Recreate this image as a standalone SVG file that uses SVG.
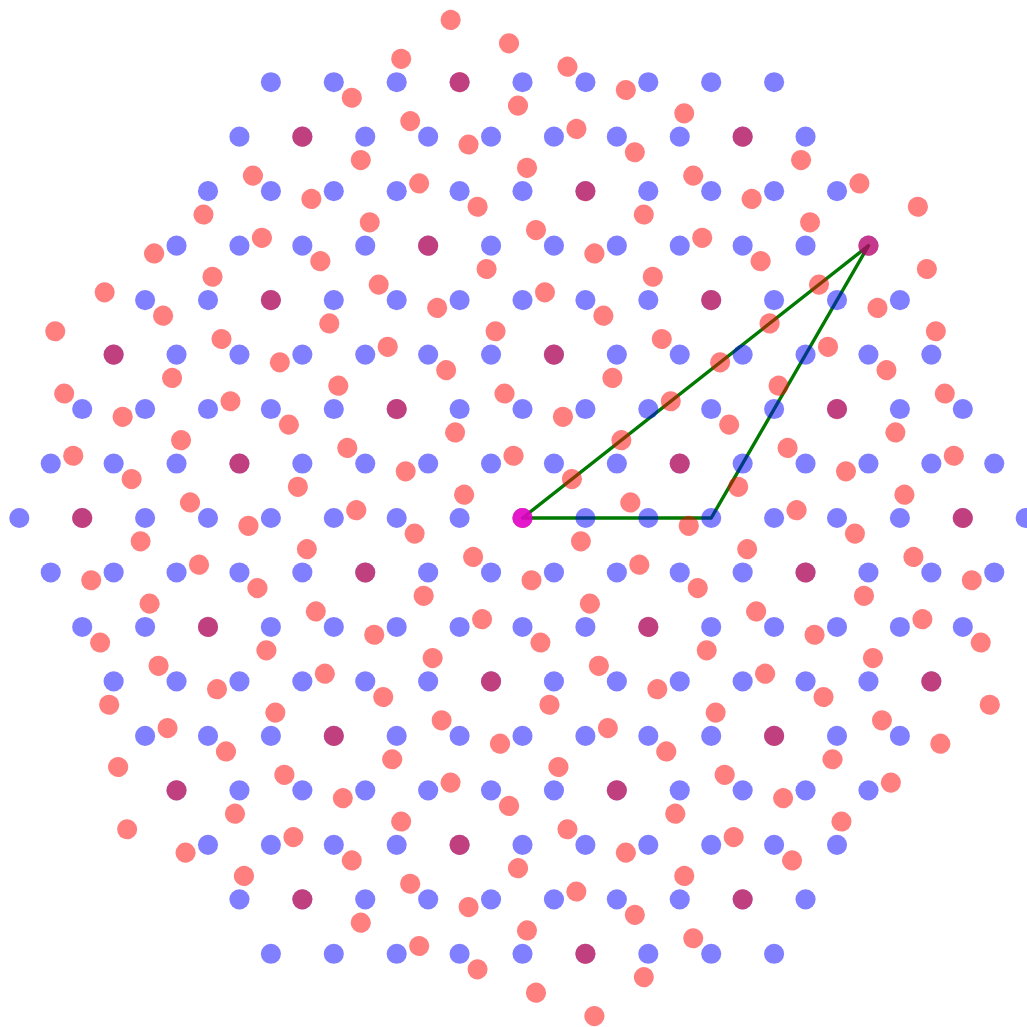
<svg xmlns="http://www.w3.org/2000/svg" xmlns:xlink="http://www.w3.org/1999/xlink" width="1027" height="1027" viewBox="0 0 1027 1027">
<style>
.tri{fill:none;stroke:#007a00;stroke-width:3.4;stroke-linejoin:round}
</style>
<defs>
<g id="R9">
<circle cx="-4" r="0.16"/><circle cx="-3" r="0.16"/><circle cx="-2" r="0.16"/><circle cx="-1" r="0.16"/><circle cx="0" r="0.16"/><circle cx="1" r="0.16"/><circle cx="2" r="0.16"/><circle cx="3" r="0.16"/><circle cx="4" r="0.16"/>
</g>
<g id="R10"><use xlink:href="#R9" href="#R9" x="-0.5"/><circle cx="4.5" r="0.16"/></g>
<g id="R11"><use xlink:href="#R10" href="#R10" x="-0.5"/><circle cx="5" r="0.16"/></g>
<g id="R12"><use xlink:href="#R11" href="#R11" x="-0.5"/><circle cx="5.5" r="0.16"/></g>
<g id="R13"><use xlink:href="#R12" href="#R12" x="-0.5"/><circle cx="6" r="0.16"/></g>
<g id="R14"><use xlink:href="#R13" href="#R13" x="-0.5"/><circle cx="6.5" r="0.16"/></g>
<g id="R15"><use xlink:href="#R14" href="#R14" x="-0.5"/><circle cx="7" r="0.16"/></g>
<g id="R16"><use xlink:href="#R15" href="#R15" x="-0.5"/><circle cx="7.5" r="0.16"/></g>
<g id="R17"><use xlink:href="#R16" href="#R16" x="-0.5"/><circle cx="8" r="0.16"/></g>
<g id="L">
<use xlink:href="#R9" href="#R9" y="-6.928203"/>
<use xlink:href="#R10" href="#R10" y="-6.062178"/>
<use xlink:href="#R11" href="#R11" y="-5.196152"/>
<use xlink:href="#R12" href="#R12" y="-4.330127"/>
<use xlink:href="#R13" href="#R13" y="-3.464102"/>
<use xlink:href="#R14" href="#R14" y="-2.598076"/>
<use xlink:href="#R15" href="#R15" y="-1.732051"/>
<use xlink:href="#R16" href="#R16" y="-0.866025"/>
<use xlink:href="#R17" href="#R17" y="0"/>
<use xlink:href="#R16" href="#R16" y="0.866025"/>
<use xlink:href="#R15" href="#R15" y="1.732051"/>
<use xlink:href="#R14" href="#R14" y="2.598076"/>
<use xlink:href="#R13" href="#R13" y="3.464102"/>
<use xlink:href="#R12" href="#R12" y="4.330127"/>
<use xlink:href="#R11" href="#R11" y="5.196152"/>
<use xlink:href="#R10" href="#R10" y="6.062178"/>
<use xlink:href="#R9" href="#R9" y="6.928203"/>
</g>
</defs>
<rect width="1027" height="1027" fill="#ffffff"/>
<g id="connectors">
<polygon class="tri" points="522.5,518 711.2,518 868.5,245.6"/>
</g>
<g id="lattice-blue">
<use xlink:href="#L" href="#L" fill="#0000ff" fill-opacity="0.5" transform="translate(522.5,518) scale(62.9)"/>
</g>
<g id="lattice-red">
<use xlink:href="#L" href="#L" fill="#ff0000" fill-opacity="0.5" transform="translate(522.5,518) rotate(21.787) scale(62.9)"/>
</g>
<g id="origin">
<circle cx="522.5" cy="518" r="10" fill="#ff00ff" fill-opacity="0.6"/>
</g>
<g id="vertex">
<circle cx="868.5" cy="245.6" r="10" fill="#ff00ff" fill-opacity="0.1"/>
</g>
</svg>
